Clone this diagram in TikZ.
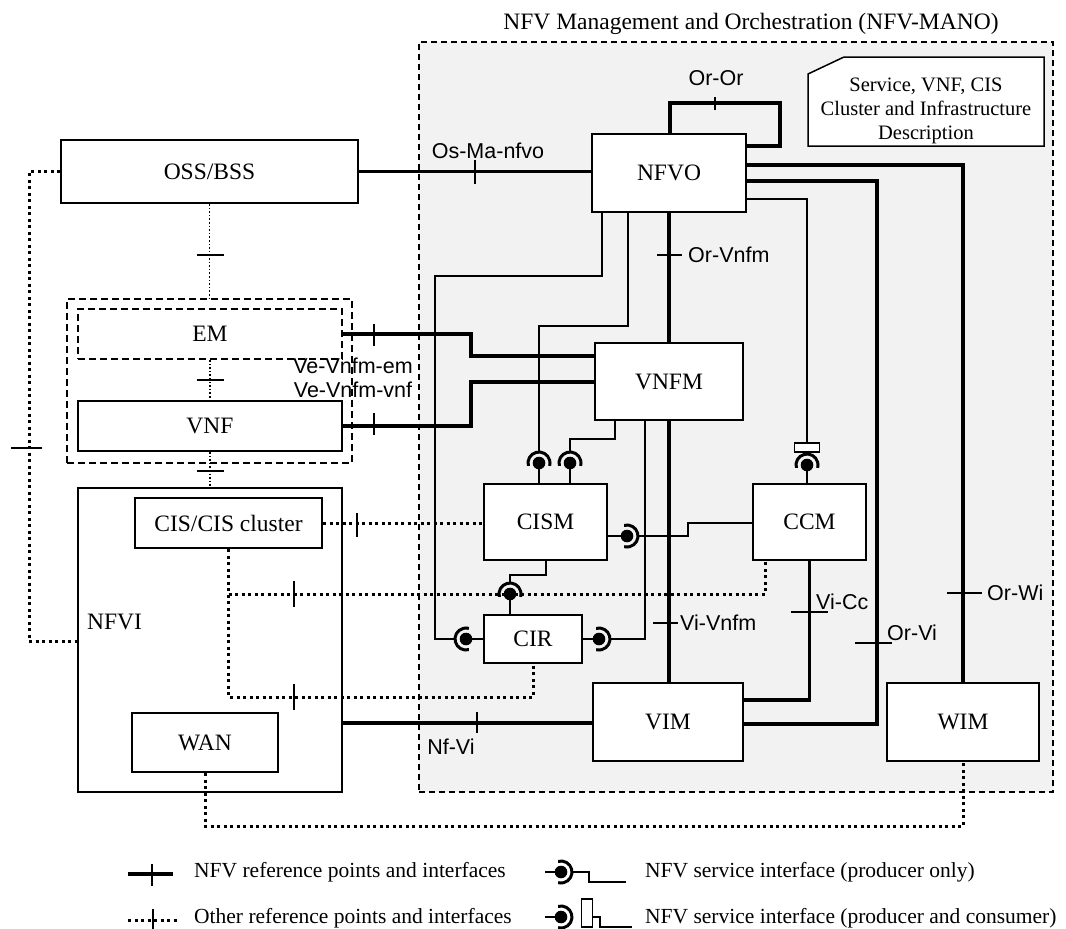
\documentclass[tikz,border=0pt]{standalone}
\usepackage{fontspec}
\setmainfont{Liberation Serif}
\newfontfamily\arialfont{Liberation Sans}
\usetikzlibrary{calc}

\newcommand\boxfont{\fontsize{23.5}{28}\selectfont}
\newcommand\labfont{\arialfont\fontsize{21.5}{25}\selectfont}
\newcommand\descfont{\fontsize{20.5}{24}\selectfont}
\newcommand\legfont{\fontsize{21.5}{25}\selectfont}

% ball on the producer side, half ring towards the consumer
\newcommand\socket[2]{%
  \fill (#1) circle (6.3);
  \draw[line width=3] (#1) ++({#2-105}:11) arc[start angle={#2-105}, end angle={#2+105}, radius=11];
}

\tikzset{
  blk/.style={draw, line width=2, fill=white, inner sep=0, font=\boxfont},
  refl/.style={line width=3.5},
  svc/.style={line width=2},
  dotl/.style={line width=3, dash pattern=on 3 off 3.5},
  fdot/.style={line width=1.6, dash pattern=on 1.6 off 2},
  tk/.style={line width=2},
  lbl/.style={font=\labfont, inner sep=0},
  legtxt/.style={font=\legfont, inner sep=0, anchor=base west},
}

\begin{document}
\begin{tikzpicture}[x=1pt, y=-1pt]
  \useasboundingbox (0,0) rectangle (1066,929);

  % NFV-MANO frame
  \node[draw, dash pattern=on 6 off 4, line width=1.7, fill=gray!10, minimum width=634, minimum height=750, inner sep=0] (mano) at (736,417) {};
  \node[font=\boxfont, anchor=base] (manotitle) at (751,29) {NFV Management and Orchestration (NFV-MANO)};
  \draw[line width=1.5, fill=white] (808,74) -- (844,57) -- (1044,57) -- (1044,146) -- (808,146) -- cycle;
  \node[font=\descfont, align=center] (desc) at (926,111) {Service, VNF, CIS\\Cluster and Infrastructure\\Description};

  % blocks
  \node[blk, minimum width=297, minimum height=63] (oss) at (209.5,171.5) {OSS/BSS};
  \node[draw, dash pattern=on 7 off 4, line width=2, minimum width=285, minimum height=164, inner sep=0] (emgrp) at (209.5,381) {};
  \node[blk, dash pattern=on 7 off 4, minimum width=264, minimum height=50] (em) at (210,334) {EM};
  \node[blk, minimum width=264, minimum height=50] (vnf) at (210,426) {VNF};
  \node[blk, minimum width=264, minimum height=304] (nfvi) at (210,640) {};
  \node[font=\boxfont] (nfvilbl) at (114.5,622) {NFVI};
  \node[blk, minimum width=187, minimum height=50] (cis) at (228.5,523) {CIS/CIS cluster};
  \node[blk, minimum width=146, minimum height=59] (wan) at (205,742.5) {WAN};
  \node[blk, minimum width=154, minimum height=78] (nfvo) at (669,173) {NFVO};
  \node[blk, minimum width=148, minimum height=77] (vnfm) at (669,381.5) {VNFM};
  \node[blk, minimum width=123, minimum height=76] (cism) at (545.5,522) {CISM};
  \node[blk, minimum width=98, minimum height=48] (cir) at (533,639) {CIR};
  \node[blk, minimum width=113, minimum height=76] (ccm) at (809.5,522) {CCM};
  \node[blk, minimum width=150, minimum height=78] (vim) at (668,722) {VIM};
  \node[blk, minimum width=152, minimum height=78] (wim) at (963,722) {WIM};

  % other reference points
  \draw[dotl] (oss.west) -- (29,171.5) -- (29,641) -- (nfvi.west |- 0,641);
  \draw[fdot] (oss.south) -- (emgrp.north);
  \draw[fdot] (em.south) -- (vnf.north);
  \draw[fdot] (vnf.south) -- (nfvi.north);
  \draw[dotl] (cis.east) -- (cism.west |- cis.east);
  \draw[dotl] (cis.south) -- (228.5,697) -- (533,697) -- (cir.south);
  \draw[dotl] (228.5,594) -- (765,594) -- (ccm.south -| 765,0);
  \draw[dotl] (wan.south) -- (205,826) -- (963,826) -- (wim.south);

  % NFV reference points
  \draw[refl] (oss.east) -- (oss.east -| nfvo.west);
  \draw[refl] (nfvo.north -| 670,0) -- (670,103) -- (780,103) -- (780,146) -- (nfvo.east |- 0,146);
  \draw[refl] (nfvo.south) -- (vnfm.north);
  \draw[refl] (vnfm.south) -- (vnfm.south |- vim.north);
  \draw[refl] (nfvo.east |- 0,165) -- (963,165) -- (wim.north);
  \draw[refl] (nfvo.east |- 0,181) -- (877,181) -- (877,724) -- (vim.east |- 0,724);
  \draw[refl] (ccm.south) -- (ccm.south |- 0,700) -- (vim.east |- 0,700);
  \draw[refl] (nfvi.east |- 0,723) -- (vim.west |- 0,723);
  \draw[refl] (em.east) -- (471,334) -- (471,356) -- (vnfm.west |- 0,356);
  \draw[refl] (vnf.east) -- (471,426) -- (471,382) -- (vnfm.west |- 0,382);

  % ticks
  \foreach \x/\y/\h in {475/172/12, 715/103.5/6.5, 374/335/11, 374/424/11, 477/722.5/10.5, 357/525/12, 294/594/13, 294/697/13, 152/875/11, 153/919/10}
    \draw[tk] (\x,\y-\h) -- (\x,\y+\h);
  \foreach \x/\y/\h in {669.5/255/12.5, 964.5/593/17.5, 873.5/643/18.5, 809.5/612/18.5, 665.5/623/12.5, 210/255/13.5, 210/380/13.5, 210/471/13.5, 26.5/448/15.5}
    \draw[tk] (\x-\h,\y) -- (\x+\h,\y);

  % labels
  \node[lbl] (lomanfvo) at (488,151) {Os-Ma-nfvo};
  \node[lbl] (loror) at (716,78) {Or-Or};
  \node[lbl, anchor=west] (lorvnfm) at (688,255) {Or-Vnfm};
  \node[lbl, anchor=west] (lorwi) at (987,593) {Or-Wi};
  \node[lbl, anchor=west] (lorvi) at (887,633) {Or-Vi};
  \node[lbl, anchor=west] (lvicc) at (816,602) {Vi-Cc};
  \node[lbl, anchor=west] (lvivnfm) at (680,623) {Vi-Vnfm};
  \node[lbl] (lnfvi) at (451,747) {Nf-Vi};
  \node[lbl] (lvem) at (353,366) {Ve-Vnfm-em};
  \node[lbl] (lvvnf) at (353,390) {Ve-Vnfm-vnf};

  % service interfaces
  \coordinate (sCismA) at (539,463);
  \coordinate (sCismB) at (570,463);
  \coordinate (sCismR) at (627,536);
  \coordinate (sCirT) at (510,594);
  \coordinate (sCirL) at (466,639);
  \coordinate (sCirR) at (599,639);
  \coordinate (sCcm) at (807,465);
  \draw[svc] (cism.north -| sCismA) -- (sCismA);
  \draw[svc] (cism.north -| sCismB) -- (sCismB);
  \draw[svc] (cism.east |- sCismR) -- (sCismR);
  \draw[svc] (cir.north -| sCirT) -- (sCirT);
  \draw[svc] (cir.west |- sCirL) -- (sCirL);
  \draw[svc] (cir.east |- sCirR) -- (sCirR);
  \draw[svc] (ccm.north -| sCcm) -- (sCcm);
  \socket{sCismA}{270}
  \socket{sCismB}{270}
  \socket{sCismR}{0}
  \socket{sCirT}{270}
  \socket{sCirL}{180}
  \socket{sCirR}{0}
  \socket{sCcm}{270}
  \node[draw, line width=1.8, fill=white, minimum width=25, minimum height=9, inner sep=0] (ccmcons) at (807,447.5) {};
  \draw[svc] (nfvo.south -| 602,0) -- (602,276) -- (435,276) -- (435,639) -- ($(sCirL)+(180:11)$);
  \draw[svc] (nfvo.south -| 628,0) -- (628,326) -- (539,326) -- ($(sCismA)+(270:11)$);
  \draw[svc] (vnfm.south -| 615,0) -- (615,439) -- (570,439) -- ($(sCismB)+(270:11)$);
  \draw[svc] (vnfm.south -| 645,0) -- (645,639) -- ($(sCirR)+(0:11)$);
  \draw[svc] ($(sCismR)+(0:11)$) -- (688,536) -- (688,523) -- (ccm.west |- 0,523);
  \draw[svc] (cism.south -| 546,0) -- (546,575) -- (510,575) -- ($(sCirT)+(270:11)$);
  \draw[svc] (nfvo.east |- 0,199) -- (807,199) -- (ccmcons.north);

  % legend
  \draw[refl] (128,874) -- (173,874);
  \node[legtxt] (leg1) at (194,877) {NFV reference points and interfaces};
  \draw[dotl] (128,920) -- (178,920);
  \node[legtxt] (leg2) at (194,923) {Other reference points and interfaces};
  \coordinate (lsA) at (561,872);
  \draw[svc] (545,872) -- (lsA);
  \socket{lsA}{0}
  \draw[svc] (572,872) -- (589,872) -- (589,882) -- (626,882);
  \node[legtxt] (leg3) at (645,877) {NFV service interface (producer only)};
  \coordinate (lsB) at (561,917);
  \draw[svc] (545,917) -- (lsB);
  \socket{lsB}{0}
  \node[draw, line width=1.8, fill=white, minimum width=11, minimum height=28, inner sep=0] (legcons) at (587,913) {};
  \draw[svc] (legcons.east |- 0,917) -- (600,917) -- (600,927) -- (632,927);
  \node[legtxt] (leg4) at (645,923) {NFV service interface (producer and consumer)};
\end{tikzpicture}
\end{document}
